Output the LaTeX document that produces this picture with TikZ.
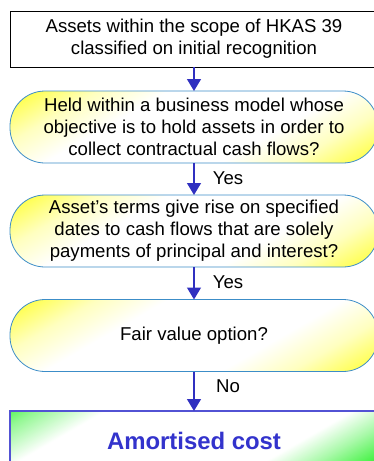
\documentclass[tikz,border=0pt]{standalone}
\usepackage{fontspec}
\setmainfont{Liberation Sans}
\usetikzlibrary{arrows.meta}

\definecolor{flowblue}{RGB}{48,48,192}
\definecolor{edgeblue}{RGB}{60,141,200}
\definecolor{costblue}{RGB}{51,51,204}
\definecolor{brightgreen}{RGB}{40,240,40}

\pgfdeclarehorizontalshading{yellowfade}{100bp}{color(0bp)=(yellow); color(35bp)=(yellow); color(38bp)=(yellow!60); color(41bp)=(yellow!25); color(45bp)=(white); color(55bp)=(white); color(59bp)=(yellow!25); color(62bp)=(yellow!60); color(65bp)=(yellow); color(100bp)=(yellow)}
\pgfdeclarehorizontalshading{greenfade}{100bp}{color(0bp)=(brightgreen); color(35bp)=(brightgreen); color(38bp)=(brightgreen!50); color(42bp)=(white); color(56bp)=(white); color(59bp)=(brightgreen!40); color(63bp)=(brightgreen); color(100bp)=(brightgreen)}

\tikzset{
  diagfill/.style={path picture={
    \shade[shading=#1, transform canvas={rotate around={-60:(path picture bounding box.center)}}]
      ([shift={(-220pt,-220pt)}]path picture bounding box.center) rectangle
      ([shift={(220pt,220pt)}]path picture bounding box.center);}}
}

\begin{document}
\begin{tikzpicture}[x=1pt,y=1pt,
  txt/.style={font=\fontsize{18.6}{22}\selectfont, align=center, inner sep=0pt, outer sep=0pt},
  plainbox/.style={txt, draw=black, line width=0.8pt, fill=white, minimum width=368pt, minimum height=56pt},
  question/.style={txt, draw=edgeblue, line width=0.8pt, diagfill=yellowfade,
    rounded corners=35pt, minimum width=368pt, minimum height=72pt},
  result/.style={draw=costblue!85, line width=1.2pt, diagfill=greenfade,
    minimum width=368pt, minimum height=60pt, inner sep=0pt, outer sep=0pt,
    font=\fontsize{23.9}{28}\selectfont\bfseries, text=costblue},
  answer/.style={txt},
  flow/.style={draw=flowblue, line width=1.5pt, -{Triangle[length=12pt,width=14pt]}}]
\useasboundingbox (0,0) rectangle (374,-461);
\clip (0,0) rectangle (374,-461);

% boxes
\node[plainbox] (assets) at (194,-39) {Assets within the scope of HKAS 39\\classified on initial recognition};
\node[question] (model) at (194,-127) {Held within a business model whose\\objective is to hold assets in order to\\collect contractual cash flows?};
\node[question] (terms) at (194,-231) {Asset's terms give rise on specified\\dates to cash flows that are solely\\payments of principal and interest?};
\node[question] (fvo) at (194,-335.5) {Fair value option?};
\node[result] (amort) at (194,-441) {Amortised cost};

% answers
\node[answer] (yes1) at (228,-178) {Yes};
\node[answer] (yes2) at (228,-282) {Yes};
\node[answer] (no) at (228,-386) {No};

% connectors
\draw[flow] (assets) -- (model);
\draw[flow] (model) -- (terms);
\draw[flow] (terms) -- (fvo);
\draw[flow] (fvo) -- (amort);
\end{tikzpicture}
\end{document}
